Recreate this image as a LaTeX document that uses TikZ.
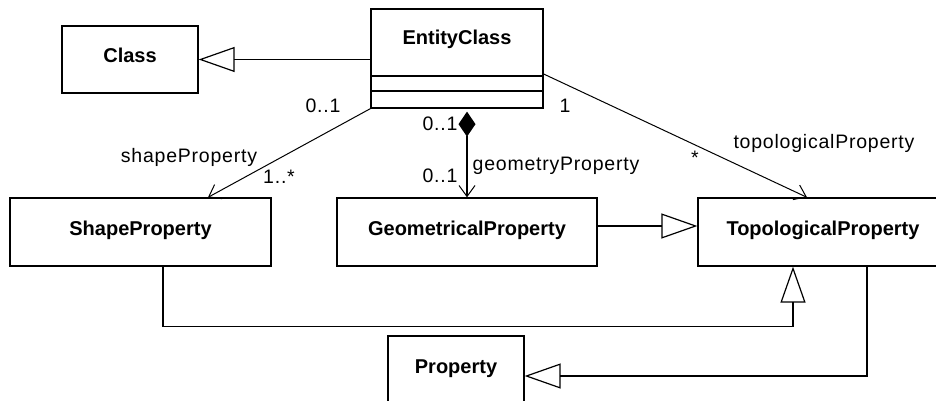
\documentclass[tikz,border=0pt]{standalone}
\usepackage{fontspec}
\setmainfont{Liberation Sans}
\newfontfamily\lblfont[LetterSpace=4]{Liberation Sans}
\usetikzlibrary{arrows.meta}
\begin{document}
\begin{tikzpicture}[x=1pt,y=-1pt,
  box/.style={draw, line width=1.3pt, inner sep=0pt, font=\fontsize{20}{24}\selectfont\bfseries, text height=13pt, text depth=6pt},
  lbl/.style={inner sep=0pt, font=\lblfont\fontsize{19.5}{24}\selectfont, text height=14pt, text depth=4pt},
  gen/.style={line width=1.2pt, -{Triangle[open, length=36pt, width=25pt, line width=1.2pt]}},
  assoc/.style={line width=1pt, -{Straight Barb[length=11pt, width=16pt, line width=1pt]}},
  comp/.style={line width=1.2pt, {Diamond[length=25pt, width=17pt]}-{Straight Barb[length=11pt, width=16pt, line width=1pt]}}
]
\useasboundingbox (0,0) rectangle (936,401);
\fill[white] (0,0) rectangle (936,401);
% classes
\node[box, minimum width=136pt, minimum height=67pt] (cls) at (130,59.5) {Class};
\node[box, minimum width=172pt, minimum height=99pt] (ec) at (457,58.5) {};
\node[inner sep=0pt, anchor=base, font=\fontsize{20}{24}\selectfont\bfseries] (ect) at (457,45) {EntityClass};
\draw[line width=1.3pt] (ec.west |- 0,76) -- (ec.east |- 0,76);
\draw[line width=1.3pt] (ec.west |- 0,91) -- (ec.east |- 0,91);
\node[box, minimum width=261pt, minimum height=68pt] (sp) at (140.5,232) {ShapeProperty};
\node[box, minimum width=260pt, minimum height=68pt] (gp) at (467,232) {GeometricalProperty};
\node[box, minimum width=250pt, minimum height=68pt] (tp) at (823,232) {TopologicalProperty};
\node[box, minimum width=136pt, minimum height=68pt] (pr) at (456,370) {Property};
% generalizations
\draw[gen] (ec.west |- cls.east) -- (cls.east);
\draw[gen] ([yshift=6pt]gp.east) -- ([yshift=6pt]tp.west);
\draw[gen] ([xshift=22.5pt]sp.south) -- ++(0,60) -| ([xshift=-30pt]tp.south);
\draw[gen] ([xshift=44pt]tp.south) |- ([yshift=-6pt]pr.east);
% associations
\draw[assoc] (ec.south west) -- ([xshift=67.5pt]sp.north);
\draw[comp, shorten <=3pt] (gp.north |- ec.south) -- (gp.north);
\draw[assoc] ([yshift=-15.5pt]ec.east) -- ([xshift=-16pt]tp.north);
% labels
\node[lbl] (l1) at (323,108) {0..1};
\node[lbl] (l2) at (189,157) {shapeProperty};
\node[lbl] (l3) at (279,178) {1..*};
\node[lbl] (l4) at (440,126) {0..1};
\node[lbl] (l5) at (440,177) {0..1};
\node[lbl] (l6) at (556,165) {geometryProperty};
\node[lbl] (l7) at (565,108) {1};
\node[lbl] (l8) at (695,159) {*};
\node[lbl] (l9) at (824,143) {topologicalProperty};
\end{tikzpicture}
\end{document}
